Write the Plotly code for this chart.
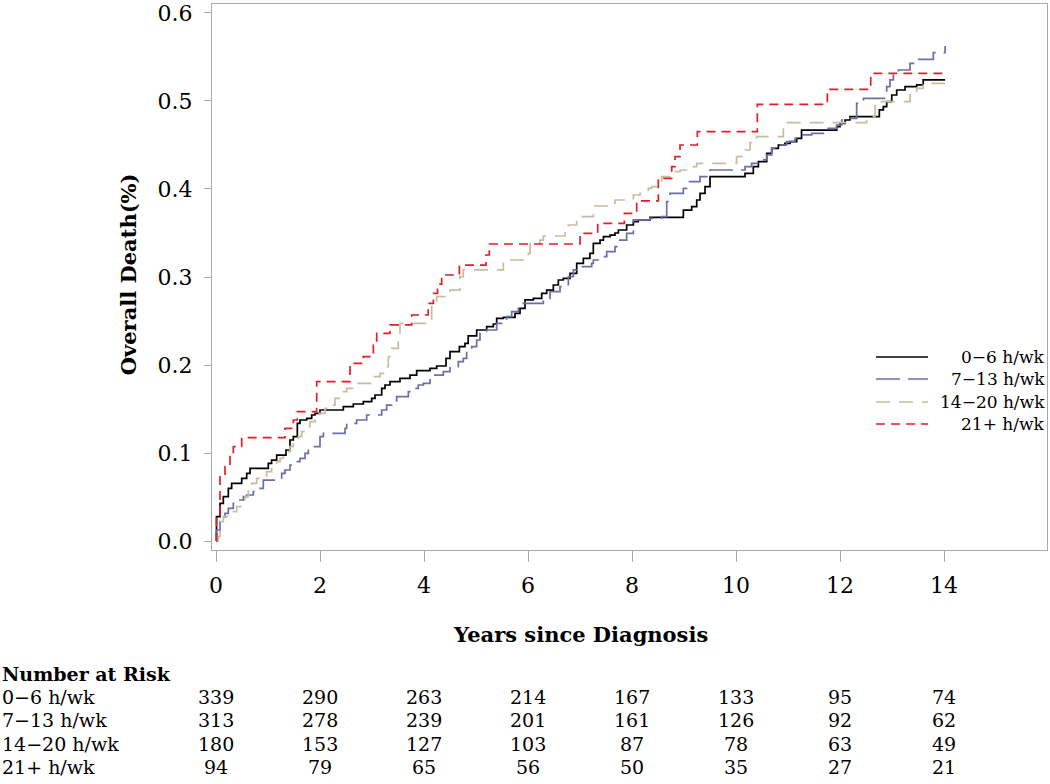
import plotly.graph_objects as go

# ---------------- data ----------------
groups = ["0\u22126 h/wk", "7\u221213 h/wk", "14\u221220 h/wk", "21+ h/wk"]

t_06 = [0, 0.01, 0.077, 0.141, 0.237, 0.301, 0.494, 0.59, 0.654, 1.006, 1.07, 1.167, 1.346, 1.423, 1.487,
        1.564, 1.615, 1.744, 1.84, 1.904, 2.0, 2.449, 2.641, 2.833, 2.994, 3.058, 3.186, 3.25, 3.346, 3.538,
        3.731, 3.859, 4.115, 4.244, 4.423, 4.5, 4.68, 4.788, 4.85, 5.013, 5.205, 5.333, 5.397, 5.526, 5.75,
        5.846, 5.942, 6.103, 6.263, 6.359, 6.487, 6.583, 6.679, 6.808, 6.936, 7.064, 7.19, 7.256, 7.385, 7.45,
        7.577, 7.673, 7.737, 7.897, 8.026, 8.12, 8.346, 8.987, 9.147, 9.244, 9.308, 9.404, 9.5, 10.173, 10.333,
        10.43, 10.59, 10.686, 10.814, 10.94, 11.04, 11.166, 11.26, 11.936, 12.0, 12.096, 12.192, 12.756, 12.833,
        12.897, 12.994, 13.09, 13.25, 13.474, 13.6, 14.02]
s_06 = [0, 0.0277, 0.0428, 0.0504, 0.0598, 0.0655, 0.0712, 0.0769, 0.0826, 0.0883, 0.092, 0.0977, 0.1034, 0.1148,
        0.1186, 0.1337, 0.1375, 0.1394, 0.1432, 0.145, 0.1489, 0.1527, 0.1557, 0.1583, 0.1621, 0.1659, 0.1735,
        0.1773, 0.1811, 0.1848, 0.1886, 0.1936, 0.1962, 0.1989, 0.2076, 0.2152, 0.2208, 0.2246, 0.233, 0.2398,
        0.2436, 0.2466, 0.253, 0.2542, 0.2587, 0.2644, 0.2739, 0.2758, 0.2814, 0.2852, 0.2909, 0.2966, 0.2985,
        0.3042, 0.3155, 0.3212, 0.3269, 0.3383, 0.342, 0.3458, 0.3475, 0.35, 0.3534, 0.3591, 0.3629, 0.3648,
        0.3678, 0.3761, 0.3799, 0.3875, 0.3951, 0.4027, 0.414, 0.4178, 0.4254, 0.4311, 0.4405, 0.4462, 0.45,
        0.4519, 0.4538, 0.4576, 0.467, 0.4708, 0.4746, 0.4784, 0.4822, 0.4898, 0.4936, 0.4992, 0.5068, 0.5125,
        0.5163, 0.5182, 0.5239, 0.5239]

t_713 = [0, 0.005, 0.077, 0.173, 0.237, 0.333, 0.429, 0.526, 0.59, 0.718, 0.814, 0.91, 1.263, 1.327, 1.423,
         1.519, 1.615, 1.712, 1.776, 2.0, 2.064, 2.481, 2.513, 2.705, 2.897, 3.186, 3.282, 3.378, 3.474, 3.699,
         3.795, 3.89, 3.987, 4.115, 4.18, 4.372, 4.5, 4.66, 4.756, 4.82, 4.917, 5.013, 5.077, 5.205, 5.397,
         5.494, 5.59, 5.686, 5.814, 5.91, 6.295, 6.423, 6.615, 6.776, 6.872, 6.936, 7.224, 7.256, 7.45, 7.513,
         7.673, 7.737, 7.897, 8.026, 8.346, 8.57, 8.667, 8.73, 8.987, 9.05, 9.308, 9.5, 10.173, 10.3, 10.46,
         10.59, 10.686, 10.78, 10.974, 11.135, 11.26, 11.455, 11.68, 11.936, 12.032, 12.128, 12.32, 12.385,
         12.45, 12.897, 12.96, 13.026, 13.122, 13.346, 13.506, 13.795, 14.02]
s_713 = [0, 0.0125, 0.022, 0.0314, 0.0371, 0.0428, 0.0466, 0.0504, 0.0523, 0.0561, 0.0598, 0.0693, 0.0769,
         0.0807, 0.0864, 0.0902, 0.0939, 0.0996, 0.1072, 0.1186, 0.1223, 0.128, 0.1337, 0.1375, 0.1432, 0.1489,
         0.1545, 0.1583, 0.164, 0.1697, 0.1735, 0.1773, 0.1792, 0.183, 0.1886, 0.1924, 0.1981, 0.2038, 0.2076,
         0.2152, 0.2208, 0.2284, 0.236, 0.2398, 0.2474, 0.2511, 0.2549, 0.2606, 0.2644, 0.2701, 0.2758, 0.2833,
         0.289, 0.3004, 0.308, 0.3117, 0.3155, 0.3193, 0.3231, 0.3288, 0.3345, 0.342, 0.3496, 0.3648, 0.3667,
         0.3686, 0.3856, 0.3951, 0.4008, 0.4083, 0.414, 0.4216, 0.4254, 0.4292, 0.433, 0.4386, 0.4462, 0.45,
         0.4538, 0.4576, 0.4614, 0.4633, 0.4689, 0.4727, 0.4784, 0.4803, 0.4973, 0.5011, 0.503, 0.5163, 0.5239,
         0.5295, 0.5352, 0.5428, 0.5473, 0.5549, 0.5625]

t_1420 = [0, 0.045, 0.077, 0.141, 0.333, 0.397, 0.494, 0.558, 0.622, 0.686, 0.782, 0.878, 0.974, 1.07, 1.167,
          1.231, 1.295, 1.359, 1.423, 1.487, 1.583, 1.647, 1.744, 1.808, 1.904, 1.968, 2.096, 2.192, 2.288,
          2.417, 2.513, 2.641, 2.705, 3.026, 3.154, 3.25, 3.314, 3.378, 3.506, 3.538, 4.147, 4.244, 4.5, 4.69,
          4.756, 5.526, 6.006, 6.04, 6.23, 6.295, 6.71, 6.776, 6.936, 7.0, 7.256, 7.673, 8.026, 8.154, 8.314,
          8.378, 8.506, 8.57, 8.73, 8.923, 9.05, 9.244, 10.01, 10.173, 10.27, 10.397, 10.91, 12.513, 12.673,
          13.346, 13.474, 13.6, 14.02]
s_1420 = [0, 0.005, 0.022, 0.0277, 0.0333, 0.039, 0.0466, 0.0504, 0.0598, 0.0655, 0.0712, 0.0731, 0.0788,
          0.0845, 0.0902, 0.0939, 0.0977, 0.1015, 0.1072, 0.111, 0.1186, 0.1242, 0.1299, 0.1356, 0.1394, 0.145,
          0.1508, 0.1545, 0.1621, 0.1697, 0.1735, 0.1773, 0.1792, 0.1867, 0.1905, 0.1981, 0.2095, 0.2189,
          0.2284, 0.2474, 0.2663, 0.2777, 0.2852, 0.3004, 0.308, 0.3193, 0.3269, 0.3383, 0.342, 0.3466, 0.3515,
          0.3591, 0.3667, 0.3686, 0.3807, 0.3875, 0.3932, 0.3951, 0.4008, 0.4027, 0.4083, 0.414, 0.4197, 0.4216,
          0.4254, 0.4292, 0.4367, 0.4443, 0.4527, 0.4595, 0.4754, 0.4822, 0.4992, 0.5106, 0.5144, 0.5201, 0.5201]

t_21 = [0, 0.01, 0.077, 0.173, 0.269, 0.333, 0.494, 1.327, 1.487, 1.564, 1.936, 2.577, 2.833, 3.026, 3.09,
        3.346, 3.763, 4.08, 4.18, 4.26, 4.34, 4.68, 5.192, 5.256, 7.0, 7.34, 7.853, 8.09, 8.506, 8.763, 8.827,
        8.923, 9.256, 10.41, 11.756, 12.59, 14.02]
s_21 = [0, 0.03, 0.075, 0.0845, 0.0958, 0.1072, 0.1174, 0.128, 0.1375, 0.147, 0.1811, 0.2019, 0.2095, 0.2246,
        0.236, 0.2455, 0.2568, 0.2701, 0.2814, 0.2918, 0.3023, 0.3136, 0.325, 0.3375, 0.3496, 0.361, 0.3723,
        0.3864, 0.4121, 0.4254, 0.4367, 0.45, 0.4652, 0.4962, 0.5133, 0.5314, 0.5314]

risk_times = [0, 2, 4, 6, 8, 10, 12, 14]
risk_06 = [339, 290, 263, 214, 167, 133, 95, 74]
risk_713 = [313, 278, 239, 201, 161, 126, 92, 62]
risk_1420 = [180, 153, 127, 103, 87, 78, 63, 49]
risk_21 = [94, 79, 65, 56, 50, 35, 27, 21]

x_ticks = [0, 2, 4, 6, 8, 10, 12, 14]
y_ticks = [0.0, 0.1, 0.2, 0.3, 0.4, 0.5, 0.6]

# ---------------- styles ----------------
FONT = "DejaVu Serif"
colors = ["#000000", "#6c6ea8", "#c9bc9c", "#e41e26"]
dashes = ["solid", "24px,8px", "14px,9px", "9px,6px"]
widths = [1.7, 1.7, 1.7, 1.7]
times = [t_06, t_713, t_1420, t_21]
surv = [s_06, s_713, s_1420, s_21]
risks = [risk_06, risk_713, risk_1420, risk_21]

fig = go.Figure()
for g, t, s, c, d, w in zip(groups, times, surv, colors, dashes, widths):
    fig.add_trace(go.Scatter(x=t, y=s, mode="lines", name=g, line=dict(color=c, dash=d, width=w, shape="hv"),
                             showlegend=False, hoverinfo="skip"))

axis_col = "#a8a8a8"
fig.update_layout(
    width=1050, height=784,
    margin=dict(l=212, r=3, t=4, b=234),
    paper_bgcolor="white", plot_bgcolor="white",
    font=dict(family=FONT, color="black"),
    xaxis=dict(range=[-0.0769, 15.98], tickvals=x_ticks, ticktext=[str(v) for v in x_ticks],
               showgrid=False, zeroline=False, showline=True, mirror=True, linecolor=axis_col, linewidth=1,
               ticks="outside", ticklen=11, tickcolor=axis_col, tickfont=dict(size=22, family=FONT),
               ticklabelstandoff=5, automargin=False),
    yaxis=dict(range=[-0.0102, 0.6102], tickvals=y_ticks, ticktext=["%.1f" % v for v in y_ticks],
               showgrid=False, zeroline=False, showline=True, mirror=True, linecolor=axis_col, linewidth=1,
               ticks="outside", ticklen=7, tickcolor=axis_col, tickfont=dict(size=22, family=FONT),
               ticklabelstandoff=7, automargin=False),
)

ann = []
# axis titles
ann.append(dict(text="<b>Years since Diagnosis</b>", x=7, xref="x", y=-0.155, yref="paper",
                showarrow=False, font=dict(size=21, family=FONT), xanchor="center", yanchor="middle"))
ann.append(dict(text="<b>Overall Death(%)</b>", x=-0.1006, xref="paper", y=0.505, yref="paper",
                showarrow=False, textangle=-90, font=dict(size=21, family=FONT), xanchor="center",
                yanchor="middle"))

# legend (custom, right aligned text)
leg_y = [0.3535, 0.3132, 0.2711, 0.2308]
shapes = []
for g, c, d, w, ly in zip(groups, colors, dashes, widths, leg_y):
    shapes.append(dict(type="line", xref="paper", yref="paper", x0=0.7952, x1=0.8575, y0=ly, y1=ly,
                       line=dict(color=c, dash=d, width=w)))
    ann.append(dict(text=g, x=1.0, xref="paper", y=ly, yref="paper", showarrow=False, xanchor="right",
                    yanchor="middle", font=dict(size=17, family=FONT)))

# number at risk table
ann.append(dict(text="<b>Number at Risk</b>", x=-0.2539, xref="paper", y=-0.2271, yref="paper",
                showarrow=False, xanchor="left", yanchor="middle", font=dict(size=19, family=FONT)))
row_y = [-0.2692, -0.3114, -0.3553, -0.3974]
for g, r, ry in zip(groups, risks, row_y):
    ann.append(dict(text=g, x=-0.2539, xref="paper", y=ry, yref="paper", showarrow=False, xanchor="left",
                    yanchor="middle", font=dict(size=19, family=FONT)))
    for tt, n in zip(risk_times, r):
        ann.append(dict(text=str(n), x=tt, xref="x", y=ry, yref="paper", showarrow=False, xanchor="center",
                        yanchor="middle", font=dict(size=19, family=FONT)))

fig.update_layout(annotations=ann, shapes=shapes)
fig.write_html("out.html", config={"displayModeBar": False},
               post_script="document.body.style.margin='0';document.body.style.overflow='hidden';")
